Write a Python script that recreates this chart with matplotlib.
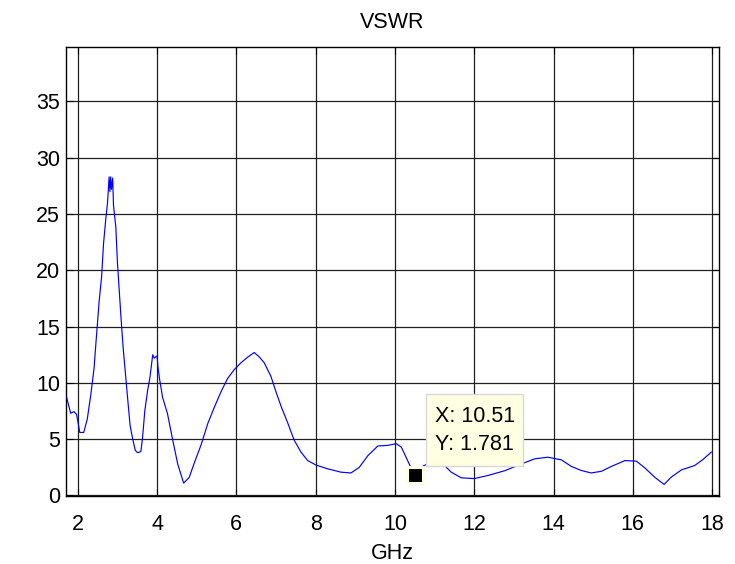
import matplotlib
matplotlib.use("Agg")
import matplotlib.pyplot as plt
from matplotlib.patches import Rectangle

plt.rcParams['font.family'] = ['Liberation Sans', 'DejaVu Sans']

freq = [1.72, 1.82, 1.90, 1.97, 2.05, 2.15, 2.24, 2.33, 2.41, 2.45,
        2.54, 2.60, 2.65, 2.71, 2.75, 2.79, 2.81, 2.83, 2.85, 2.88,
        2.90, 2.96, 3.00, 3.04, 3.09, 3.14, 3.19, 3.25, 3.32, 3.38,
        3.45, 3.51, 3.59, 3.63, 3.69, 3.76, 3.82, 3.89, 3.93, 4.00,
        4.02, 4.06, 4.14, 4.26, 4.39, 4.52, 4.67, 4.81, 4.94, 5.11,
        5.28, 5.44, 5.61, 5.78, 5.95, 6.12, 6.29, 6.45, 6.58, 6.70,
        6.87, 7.00, 7.13, 7.30, 7.46, 7.63, 7.80, 8.01, 8.30, 8.64,
        8.89, 9.10, 9.32, 9.57, 9.82, 10.03, 10.16, 10.28, 10.40, 10.51,
        10.70, 10.95, 11.25, 11.42, 11.67, 12.00, 12.35, 12.77, 13.19, 13.53,
        13.86, 14.20, 14.45, 14.70, 14.95, 15.21, 15.46, 15.80, 16.09, 16.30,
        16.55, 16.79, 16.97, 17.23, 17.56, 17.77, 17.98]

vswr = [8.7, 7.3, 7.45, 7.2, 5.6, 5.6, 6.8, 9.0, 11.3, 13.2,
        17.3, 19.4, 22.4, 24.7, 26.0, 28.3, 27.0, 28.3, 27.2, 28.2,
        25.8, 23.8, 20.7, 18.5, 15.8, 13.3, 11.3, 8.9, 6.2, 5.1,
        4.0, 3.8, 3.9, 5.0, 7.5, 9.3, 10.5, 12.5, 12.2, 12.4,
        11.5, 10.4, 8.7, 7.3, 5.0, 2.8, 1.1, 1.6, 2.9, 4.5,
        6.4, 7.8, 9.2, 10.4, 11.2, 11.8, 12.3, 12.7, 12.3, 11.8,
        10.6, 9.2, 7.9, 6.4, 4.9, 3.85, 3.1, 2.7, 2.37, 2.07,
        2.0, 2.5, 3.55, 4.4, 4.45, 4.6, 4.3, 3.4, 2.5, 1.781,
        2.6, 3.0, 2.66, 2.07, 1.57, 1.5, 1.78, 2.2, 2.8, 3.26,
        3.4, 3.16, 2.58, 2.22, 2.0, 2.15, 2.58, 3.1, 3.05, 2.46,
        1.63, 0.98, 1.63, 2.28, 2.66, 3.2, 3.85]

tip_x = 10.51
tip_y = 1.781

x_ticks = [2, 4, 6, 8, 10, 12, 14, 16, 18]
y_ticks = [0, 5, 10, 15, 20, 25, 30, 35]

FS = 15.5

fig = plt.figure(figsize=(7.35, 5.64), dpi=100)
ax = fig.add_axes([0.0902, 0.1197, 0.8878, 0.7970])

ax.plot(freq, vswr, color='#0000FF', linewidth=0.85, zorder=3)

ax.set_xlim(1.71, 18.17)
ax.set_ylim(-0.09, 39.84)
ax.set_xticks(x_ticks)
ax.set_yticks(y_ticks)
ax.set_xticklabels([str(t) for t in x_ticks])
ax.set_yticklabels([str(t) for t in y_ticks])
ax.tick_params(direction='in', length=5, width=0.8, top=True, right=True,
               labelsize=FS, colors='black')
ax.tick_params(axis='x', pad=12.5)
ax.tick_params(axis='y', pad=4.5)
ax.grid(True, color='#202020', linewidth=0.9, linestyle='-')
ax.set_axisbelow(True)
for s in ax.spines.values():
    s.set_color('black')
    s.set_linewidth(1.0)

ax.set_title('VSWR', fontsize=FS, pad=14)
ax.set_xlabel('GHz', fontsize=FS, labelpad=6)

# data tip
ax.plot([tip_x], [tip_y], marker='s', markersize=11.5, color='black',
        markeredgecolor='#FFFFE1', markeredgewidth=2.2, zorder=5)
box = Rectangle((10.79, 2.58), 2.45, 6.39, facecolor='#FFFFE1',
                edgecolor='#d8d8d8', linewidth=1.0, zorder=4)
ax.add_patch(box)
ax.text(11.0, 6.98, f'X: {tip_x:.2f}', fontsize=FS, va='center', ha='left', zorder=6)
ax.text(11.0, 4.49, f'Y: {tip_y:.3f}', fontsize=FS, va='center', ha='left', zorder=6)

fig.savefig('out.png', dpi=100)
